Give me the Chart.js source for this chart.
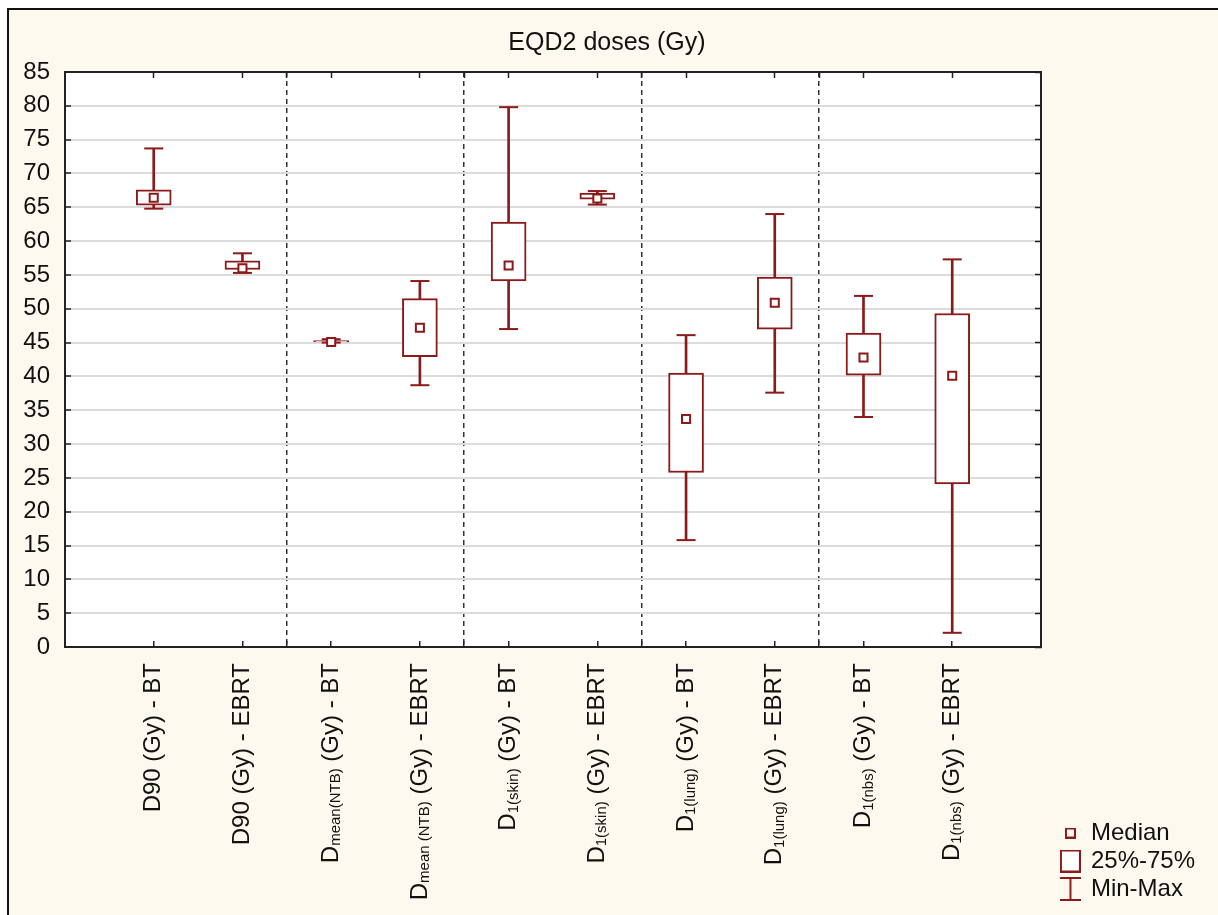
<!DOCTYPE html>
<html>
<head>
<meta charset="utf-8">
<title>EQD2 doses (Gy)</title>
<script src="https://cdn.jsdelivr.net/npm/chart.js@4.4.1/dist/chart.umd.min.js"></script>
<style>
  html, body { margin: 0; padding: 0; background: #fff; }
  #frame {
    position: absolute; left: 7px; top: 8px;
    width: 1209px; height: 905px;
    border-left: 2px solid #111; border-top: 2px solid #111;
    background: #fef9ee;
  }
  canvas { display: block; }
</style>
</head>
<body>
<div id="frame"><canvas id="boxChart" width="1209" height="905"></canvas></div>
<script>
// label pieces: main text, subscript, tail
const labelMain = ["D90", "D90", "D", "D", "D", "D", "D", "D", "D", "D"];
const labelSub = ["", "", "mean(NTB)", "mean (NTB)", "1(skin)", "1(skin)", "1(lung)", "1(lung)", "1(nbs)", "1(nbs)"];
const labelTail = [" (Gy) - BT", " (Gy) - EBRT", " (Gy) - BT", " (Gy) - EBRT", " (Gy) - BT",
                   " (Gy) - EBRT", " (Gy) - BT", " (Gy) - EBRT", " (Gy) - BT", " (Gy) - EBRT"];
const categories = labelMain.map((m, i) => m + labelSub[i] + labelTail[i]);

const mins    = [64.8, 55.3, 45.0, 38.7, 47.0, 65.4, 15.8, 37.6, 34.0, 2.1];
const q1s     = [65.3, 55.8, 45.1, 42.9, 54.1, 66.2, 25.8, 47.0, 40.2, 24.1];
const medians = [66.4, 56.0, 45.1, 47.2, 56.4, 66.3, 33.7, 50.9, 42.8, 40.1];
const q3s     = [67.6, 57.1, 45.3, 51.5, 62.8, 67.1, 40.5, 54.7, 46.4, 49.3];
const maxs    = [73.7, 58.2, 45.5, 54.1, 79.8, 67.4, 46.1, 64.0, 51.9, 57.3];

const legendText = ["Median", "25%-75%", "Min-Max"];

const red = "#8b1a1a";
const ink = "#111";
const family = "'Liberation Sans', Arial, sans-serif";
Chart.defaults.font.family = family;

// category positions 1..n on a linear axis, dashed separators between pairs
const xs = categories.map((_, i) => i + 1);
const dividers = xs.filter(v => v % 2 === 0 && v < categories.length).map(v => v + 0.5);
const xTicks = xs.concat(dividers).sort((a, b) => a - b);
const setXTicks = s => { s.ticks = xTicks.map(value => ({ value })); };

function makeIcon(w, h, draw) {
  const c = document.createElement("canvas");
  c.width = w; c.height = h;
  const g = c.getContext("2d");
  g.strokeStyle = red; g.lineWidth = 2;
  draw(g);
  return c;
}
const legendIcons = [
  makeIcon(11, 11, g => { g.strokeRect(1, 1, 9, 9); }),
  makeIcon(21, 23, g => { g.fillStyle = "#fff"; g.fillRect(1, 1, 19, 21); g.strokeRect(1, 1, 19, 21); }),
  makeIcon(21, 24, g => {
    g.beginPath();
    g.moveTo(0, 1); g.lineTo(21, 1);
    g.moveTo(0, 23); g.lineTo(21, 23);
    g.moveTo(10.5, 1); g.lineTo(10.5, 23);
    g.stroke();
  })
];

const plotBackground = {
  id: "plotBackground",
  beforeDraw(chart) {
    const { ctx, chartArea: a } = chart;
    ctx.save();
    ctx.fillStyle = "#fff";
    ctx.fillRect(a.left, a.top, a.right - a.left, a.bottom - a.top);
    ctx.restore();
  }
};

// rotated category labels with subscripts
const richLabels = {
  id: "richLabels",
  afterDraw(chart) {
    const { ctx } = chart;
    const x = chart.scales.x;
    const big = "24px " + family;
    const small = "15px " + family;
    ctx.save();
    ctx.fillStyle = ink;
    ctx.textBaseline = "middle";
    ctx.textAlign = "left";
    categories.forEach((_, i) => {
      const parts = [[labelMain[i], big, 0], [labelSub[i], small, 5], [labelTail[i], big, 0]];
      let total = 0;
      parts.forEach(p => { ctx.font = p[1]; p.push(ctx.measureText(p[0]).width); total += p[3]; });
      ctx.save();
      ctx.translate(x.getPixelForValue(xs[i]), x.top + 16);
      ctx.rotate(-Math.PI / 2);
      let pos = -total;
      parts.forEach(p => { ctx.font = p[1]; ctx.fillText(p[0], pos, p[2]); pos += p[3]; });
      ctx.restore();
    });
    ctx.restore();
  }
};

new Chart(document.getElementById("boxChart"), {
  type: "bar",
  data: {
    datasets: [
      {
        type: "line", label: "Median", showLine: false, order: 0,
        data: xs.map((x, i) => ({ x, y: medians[i] })),
        pointStyle: "rect", pointRadius: 5.7, pointBorderWidth: 2,
        pointBorderColor: red, pointBackgroundColor: "#fff"
      },
      {
        type: "line", label: "Max", showLine: false, order: 1,
        data: xs.map((x, i) => ({ x, y: maxs[i] })),
        pointStyle: "line", pointRadius: 9.5, pointBorderWidth: 2, pointBorderColor: red
      },
      {
        type: "line", label: "Min", showLine: false, order: 1,
        data: xs.map((x, i) => ({ x, y: mins[i] })),
        pointStyle: "line", pointRadius: 9.5, pointBorderWidth: 2, pointBorderColor: red
      },
      {
        label: "25%-75%", order: 2, grouped: false,
        data: xs.map((x, i) => ({ x, y: [q1s[i], q3s[i]] })),
        backgroundColor: "#fff", borderColor: red, borderWidth: 2,
        borderSkipped: false, barThickness: 35
      },
      {
        label: "Min-Max", order: 3, grouped: false,
        data: xs.map((x, i) => ({ x, y: [mins[i], maxs[i]] })),
        backgroundColor: red, borderWidth: 0, barThickness: 2
      }
    ]
  },
  options: {
    responsive: false,
    animation: false,
    events: [],
    layout: { padding: { left: 0, right: 13, top: 0, bottom: 10 } },
    scales: {
      x: {
        type: "linear", position: "bottom", min: 0, max: 11, offset: false,
        afterBuildTicks: setXTicks,
        afterFit: s => { s.height = 258; },
        ticks: { display: false },
        grid: {
          offset: false,
          color: c => (c.tick && dividers.includes(c.tick.value)) ? "#333" : "rgba(0,0,0,0)",
          lineWidth: 1.5,
          tickLength: -6, tickColor: "#222", tickWidth: 1.5
        },
        border: {
          color: "#222", width: 2,
          dash: c => (c.tick && dividers.includes(c.tick.value)) ? [5, 4] : []
        }
      },
      x2: {
        type: "linear", position: "top", min: 0, max: 11, offset: false,
        afterBuildTicks: setXTicks,
        afterFit: s => { s.height = 0; },
        ticks: { display: false },
        grid: { offset: false, drawOnChartArea: false, tickLength: -6, tickColor: "#222", tickWidth: 1.5 },
        border: { color: "#222", width: 2 }
      },
      y: {
        type: "linear", position: "left", min: 0, max: 85,
        afterFit: s => { s.width = 56; },
        ticks: { stepSize: 5, padding: 21, color: ink, font: { size: 24 } },
        grid: { color: "#dcdcdc", lineWidth: 2, tickLength: -6, tickColor: "#222", tickWidth: 1.5 },
        border: { color: "#222", width: 2 }
      },
      y2: {
        type: "linear", position: "right", min: 0, max: 85,
        afterFit: s => { s.width = 17; },
        ticks: { stepSize: 5, display: false },
        grid: { drawOnChartArea: false, tickLength: -6, tickColor: "#222", tickWidth: 1.5 },
        border: { color: "#222", width: 2 }
      }
    },
    plugins: {
      tooltip: { enabled: false },
      title: {
        display: true, text: "EQD2 doses (Gy)", color: ink,
        font: { size: 25, weight: "normal" },
        padding: { top: 18, bottom: 14 }
      },
      legend: {
        position: "right", align: "end",
        labels: {
          usePointStyle: true, pointStyleWidth: 17, padding: 4,
          color: ink, font: { size: 24 },
          generateLabels: () => legendText.map((text, i) => ({
            text, pointStyle: legendIcons[i], fillStyle: "#fff",
            strokeStyle: red, lineWidth: 0, hidden: false, fontColor: ink
          }))
        }
      }
    }
  },
  plugins: [plotBackground, richLabels]
});
</script>
</body>
</html>
